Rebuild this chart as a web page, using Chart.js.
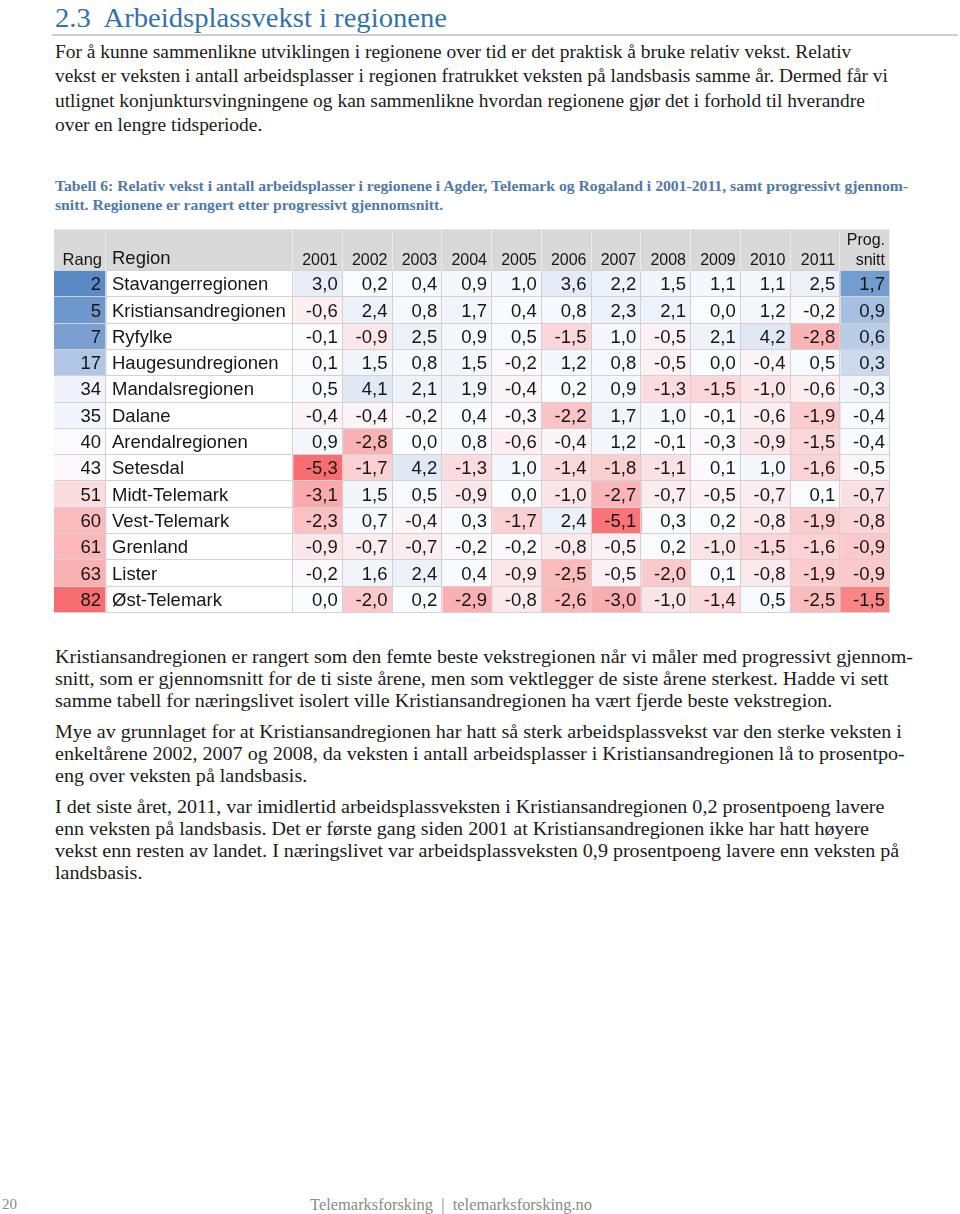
<!DOCTYPE html>
<html>
<head>
<meta charset="utf-8">
<script src="https://cdn.jsdelivr.net/npm/chart.js@4"></script>
<style>
  html, body { margin: 0; padding: 0; background: #fff; }
  body { width: 960px; height: 1214px; position: relative; overflow: hidden; }
  .serif { font-family: "Liberation Serif", "Times New Roman", serif; color: #1b1b1b; }
  .abs { position: absolute; white-space: nowrap; transform-origin: 0 0; }
  #title { left: 55px; top: 0; font-size: 27px; line-height: 36px; color: #2f72b2; }
  #rule { left: 52px; top: 34px; width: 906px; height: 2px; background: #cfcfcf; }
  #intro { left: 55px; top: 40px; font-size: 18.5px; line-height: 24.3px; }
  #caption { left: 55px; top: 176px; font-size: 15.5px; line-height: 19px; font-weight: bold; color: #5079ad; }
  #tableBox { left: 54px; top: 229px; width: 837px; height: 384px; }
  #after { left: 55px; top: 646px; font-size: 18px; line-height: 22px; }
  #after p { margin: 0 0 9px 0; }
  #pageNo { left: 2px; top: 1194px; font-size: 15px; line-height: 20px; color: #8a8a8a; }
  #footer { left: 310px; top: 1195px; font-size: 16px; line-height: 20px; color: #8a8a8a; }
</style>
</head>
<body>
<div id="title" class="abs serif" data-fit="392">2.3&nbsp; Arbeidsplassvekst i regionene</div>
<div id="rule" class="abs"></div>
<div id="intro" class="abs serif" data-fit="833">For å kunne sammenlikne utviklingen i regionene over tid er det praktisk å bruke relativ vekst. Relativ<br>vekst er veksten i antall arbeidsplasser i regionen fratrukket veksten på landsbasis samme år. Dermed får vi<br>utlignet konjunktursvingningene og kan sammenlikne hvordan regionene gjør det i forhold til hverandre<br>over en lengre tidsperiode.</div>
<div id="caption" class="abs serif" data-fit="853">Tabell 6: Relativ vekst i antall arbeidsplasser i regionene i Agder, Telemark og Rogaland i 2001-2011, samt progressivt gjennom-<br>snitt. Regionene er rangert etter progressivt gjennomsnitt.</div>
<div id="tableBox" class="abs"><canvas id="table"></canvas></div>
<div id="after" class="abs serif" data-fit="858">
<p>Kristiansandregionen er rangert som den femte beste vekstregionen når vi måler med progressivt gjennom-<br>snitt, som er gjennomsnitt for de ti siste årene, men som vektlegger de siste årene sterkest. Hadde vi sett<br>samme tabell for næringslivet isolert ville Kristiansandregionen ha vært fjerde beste vekstregion.</p>
<p>Mye av grunnlaget for at Kristiansandregionen har hatt så sterk arbeidsplassvekst var den sterke veksten i<br>enkeltårene 2002, 2007 og 2008, da veksten i antall arbeidsplasser i Kristiansandregionen lå to prosentpo-<br>eng over veksten på landsbasis.</p>
<p>I det siste året, 2011, var imidlertid arbeidsplassveksten i Kristiansandregionen 0,2 prosentpoeng lavere<br>enn veksten på landsbasis. Det er første gang siden 2001 at Kristiansandregionen ikke har hatt høyere<br>vekst enn resten av landet. I næringslivet var arbeidsplassveksten 0,9 prosentpoeng lavere enn veksten på<br>landsbasis.</p>
</div>
<div id="pageNo" class="abs serif">20</div>
<div id="footer" class="abs serif" data-fit="282">Telemarksforsking &nbsp;|&nbsp; telemarksforsking.no</div>

<script>
var ranks = [2, 5, 7, 17, 34, 35, 40, 43, 51, 60, 61, 63, 82];
var regions = ['Stavangerregionen', 'Kristiansandregionen', 'Ryfylke', 'Haugesundregionen',
  'Mandalsregionen', 'Dalane', 'Arendalregionen', 'Setesdal', 'Midt-Telemark',
  'Vest-Telemark', 'Grenland', 'Lister', 'Øst-Telemark'];
var years = ['2001', '2002', '2003', '2004', '2005', '2006', '2007', '2008', '2009', '2010', '2011'];

var vekst2001 = [3.0, -0.6, -0.1, 0.1, 0.5, -0.4, 0.9, -5.3, -3.1, -2.3, -0.9, -0.2, 0.0];
var vekst2002 = [0.2, 2.4, -0.9, 1.5, 4.1, -0.4, -2.8, -1.7, 1.5, 0.7, -0.7, 1.6, -2.0];
var vekst2003 = [0.4, 0.8, 2.5, 0.8, 2.1, -0.2, 0.0, 4.2, 0.5, -0.4, -0.7, 2.4, 0.2];
var vekst2004 = [0.9, 1.7, 0.9, 1.5, 1.9, 0.4, 0.8, -1.3, -0.9, 0.3, -0.2, 0.4, -2.9];
var vekst2005 = [1.0, 0.4, 0.5, -0.2, -0.4, -0.3, -0.6, 1.0, 0.0, -1.7, -0.2, -0.9, -0.8];
var vekst2006 = [3.6, 0.8, -1.5, 1.2, 0.2, -2.2, -0.4, -1.4, -1.0, 2.4, -0.8, -2.5, -2.6];
var vekst2007 = [2.2, 2.3, 1.0, 0.8, 0.9, 1.7, 1.2, -1.8, -2.7, -5.1, -0.5, -0.5, -3.0];
var vekst2008 = [1.5, 2.1, -0.5, -0.5, -1.3, 1.0, -0.1, -1.1, -0.7, 0.3, 0.2, -2.0, -1.0];
var vekst2009 = [1.1, 0.0, 2.1, 0.0, -1.5, -0.1, -0.3, 0.1, -0.5, 0.2, -1.0, 0.1, -1.4];
var vekst2010 = [1.1, 1.2, 4.2, -0.4, -1.0, -0.6, -0.9, 1.0, -0.7, -0.8, -1.5, -0.8, 0.5];
var vekst2011 = [2.5, -0.2, -2.8, 0.5, -0.6, -1.9, -1.5, -1.6, 0.1, -1.9, -1.6, -1.9, -2.5];
var progSnitt = [1.7, 0.9, 0.6, 0.3, -0.3, -0.4, -0.4, -0.5, -0.7, -0.8, -0.9, -0.9, -1.5];

var yearSeries = [vekst2001, vekst2002, vekst2003, vekst2004, vekst2005, vekst2006,
  vekst2007, vekst2008, vekst2009, vekst2010, vekst2011];

// stretch the serif blocks to the width of the original typesetting
document.querySelectorAll('[data-fit]').forEach(function (el) {
  var w = el.getBoundingClientRect().width;
  el.style.transform = 'scaleX(' + (Number(el.dataset.fit) / w) + ')';
});

// column widths in px (layout, not data)
var rangW = 52, regionW = 187, numW = 49.75;
var headerH = 42;

var RED = [248, 105, 107], WHITE = [252, 252, 255], BLUE = [90, 138, 198];
function mix(c, t) {
  t = Math.max(0, Math.min(1, t));
  return 'rgb(' + [0, 1, 2].map(function (i) { return Math.round(WHITE[i] + (c[i] - WHITE[i]) * t); }).join(',') + ')';
}
// three colour scale: low = red, mid = white, high = blue
function scale(v, lo, mid, hi) {
  if (v < mid) return mix(RED, (mid - v) / (mid - lo));
  return mix(BLUE, (v - mid) / (hi - mid));
}
function rankColor(r) { return r < 42 ? mix(BLUE, Math.pow((42 - r) / 40, 1.6)) : mix(RED, (r - 42) / 41); }
function yearColor(v) { return scale(v, -5.5, -0.1, 25); }
function progColor(v) { return scale(v, -1.75, -0.45, 2.1); }
function fmt(v) { return v.toFixed(1).replace('.', ',').replace('-0,0', '0,0'); }

function widthRow(w) { return regions.map(function () { return w; }); }

var datasets = [];
datasets.push({ label: 'Rang', data: widthRow(rangW), cells: ranks,
  backgroundColor: ranks.map(rankColor), align: 'right' });
datasets.push({ label: 'Region', data: widthRow(regionW), cells: regions,
  backgroundColor: '#ffffff', align: 'left' });
years.forEach(function (y, i) {
  datasets.push({ label: y, data: widthRow(numW), cells: yearSeries[i].map(fmt),
    backgroundColor: yearSeries[i].map(yearColor), align: 'right' });
});
datasets.push({ label: 'Prog.\nsnitt', data: widthRow(numW), cells: progSnitt.map(fmt),
  backgroundColor: progSnitt.map(progColor), align: 'right' });

var tablePlugin = {
  id: 'tablePlugin',
  beforeDatasetsDraw: function (chart) {
    var ctx = chart.ctx, area = chart.chartArea;
    ctx.save();
    ctx.fillStyle = '#d9d9d9';
    ctx.fillRect(area.left, area.top - headerH, area.right - area.left, headerH);
    ctx.restore();
  },
  afterDatasetsDraw: function (chart) {
    var ctx = chart.ctx, area = chart.chartArea;
    var top = area.top - headerH;
    ctx.save();
    // grid lines
    ctx.lineWidth = 1;
    var first = chart.getDatasetMeta(0).data;
    ctx.strokeStyle = '#d2d2d2';
    first.forEach(function (el) {
      var yb = Math.round(el.y + el.height / 2) - 0.5;
      ctx.beginPath(); ctx.moveTo(area.left, yb); ctx.lineTo(area.right, yb); ctx.stroke();
    });
    ctx.beginPath(); ctx.moveTo(area.left, area.top - 0.5); ctx.lineTo(area.right, area.top - 0.5); ctx.stroke();
    chart.data.datasets.forEach(function (ds, i) {
      var el = chart.getDatasetMeta(i).data[0];
      var xr = Math.round(Math.max(el.x, el.base)) - 0.5;
      ctx.strokeStyle = '#d2d2d2';
      ctx.beginPath(); ctx.moveTo(xr, area.top); ctx.lineTo(xr, area.bottom); ctx.stroke();
      ctx.strokeStyle = '#ececec';
      ctx.beginPath(); ctx.moveTo(xr, top); ctx.lineTo(xr, area.top); ctx.stroke();
    });
    ctx.strokeStyle = '#e4e4e4';
    ctx.beginPath(); ctx.moveTo(area.left, top + 0.5); ctx.lineTo(area.right, top + 0.5); ctx.stroke();

    // cell text
    ctx.fillStyle = '#161616';
    ctx.textBaseline = 'middle';
    chart.data.datasets.forEach(function (ds, i) {
      chart.getDatasetMeta(i).data.forEach(function (el, j) {
        var l = Math.min(el.x, el.base), r = Math.max(el.x, el.base);
        ctx.font = '18.5px "Liberation Sans", Arial, sans-serif';
        if (ds.align === 'left') { ctx.textAlign = 'left'; ctx.fillText(ds.cells[j], l + 6, el.y + 1); }
        else { ctx.textAlign = 'right'; ctx.fillText(ds.cells[j], r - 5, el.y + 1); }
      });
      // header text
      var h = chart.getDatasetMeta(i).data[0];
      var hl = Math.min(h.x, h.base), hr = Math.max(h.x, h.base);
      ctx.textBaseline = 'alphabetic';
      if (ds.label === 'Region') {
        ctx.font = '18.5px "Liberation Sans", Arial, sans-serif';
        ctx.textAlign = 'left'; ctx.fillText(ds.label, hl + 6, area.top - 7);
      } else if (ds.label === 'Rang') {
        ctx.font = '16.5px "Liberation Sans", Arial, sans-serif';
        ctx.textAlign = 'right'; ctx.fillText(ds.label, hr - 4, area.top - 6);
      } else {
        ctx.font = '16px "Liberation Sans", Arial, sans-serif';
        ctx.textAlign = 'right';
        var lines = ds.label.split('\n');
        lines.forEach(function (t, k) {
          ctx.fillText(t, hr - 5, area.top - 6 - (lines.length - 1 - k) * 20);
        });
      }
      ctx.textBaseline = 'middle';
    });
    ctx.restore();
  }
};

new Chart(document.getElementById('table'), {
  type: 'bar',
  data: { labels: regions, datasets: datasets },
  options: {
    indexAxis: 'y',
    responsive: true,
    maintainAspectRatio: false,
    animation: false,
    layout: { padding: { top: headerH, left: 0, right: 1, bottom: 0 } },
    datasets: { bar: { categoryPercentage: 1, barPercentage: 1, borderWidth: 0 } },
    scales: {
      x: { display: false, stacked: true, min: 0, max: rangW + regionW + numW * 12 },
      y: { display: false, stacked: true }
    },
    plugins: { legend: { display: false }, tooltip: { enabled: false } },
    events: []
  },
  plugins: [tablePlugin]
});
</script>
</body>
</html>
